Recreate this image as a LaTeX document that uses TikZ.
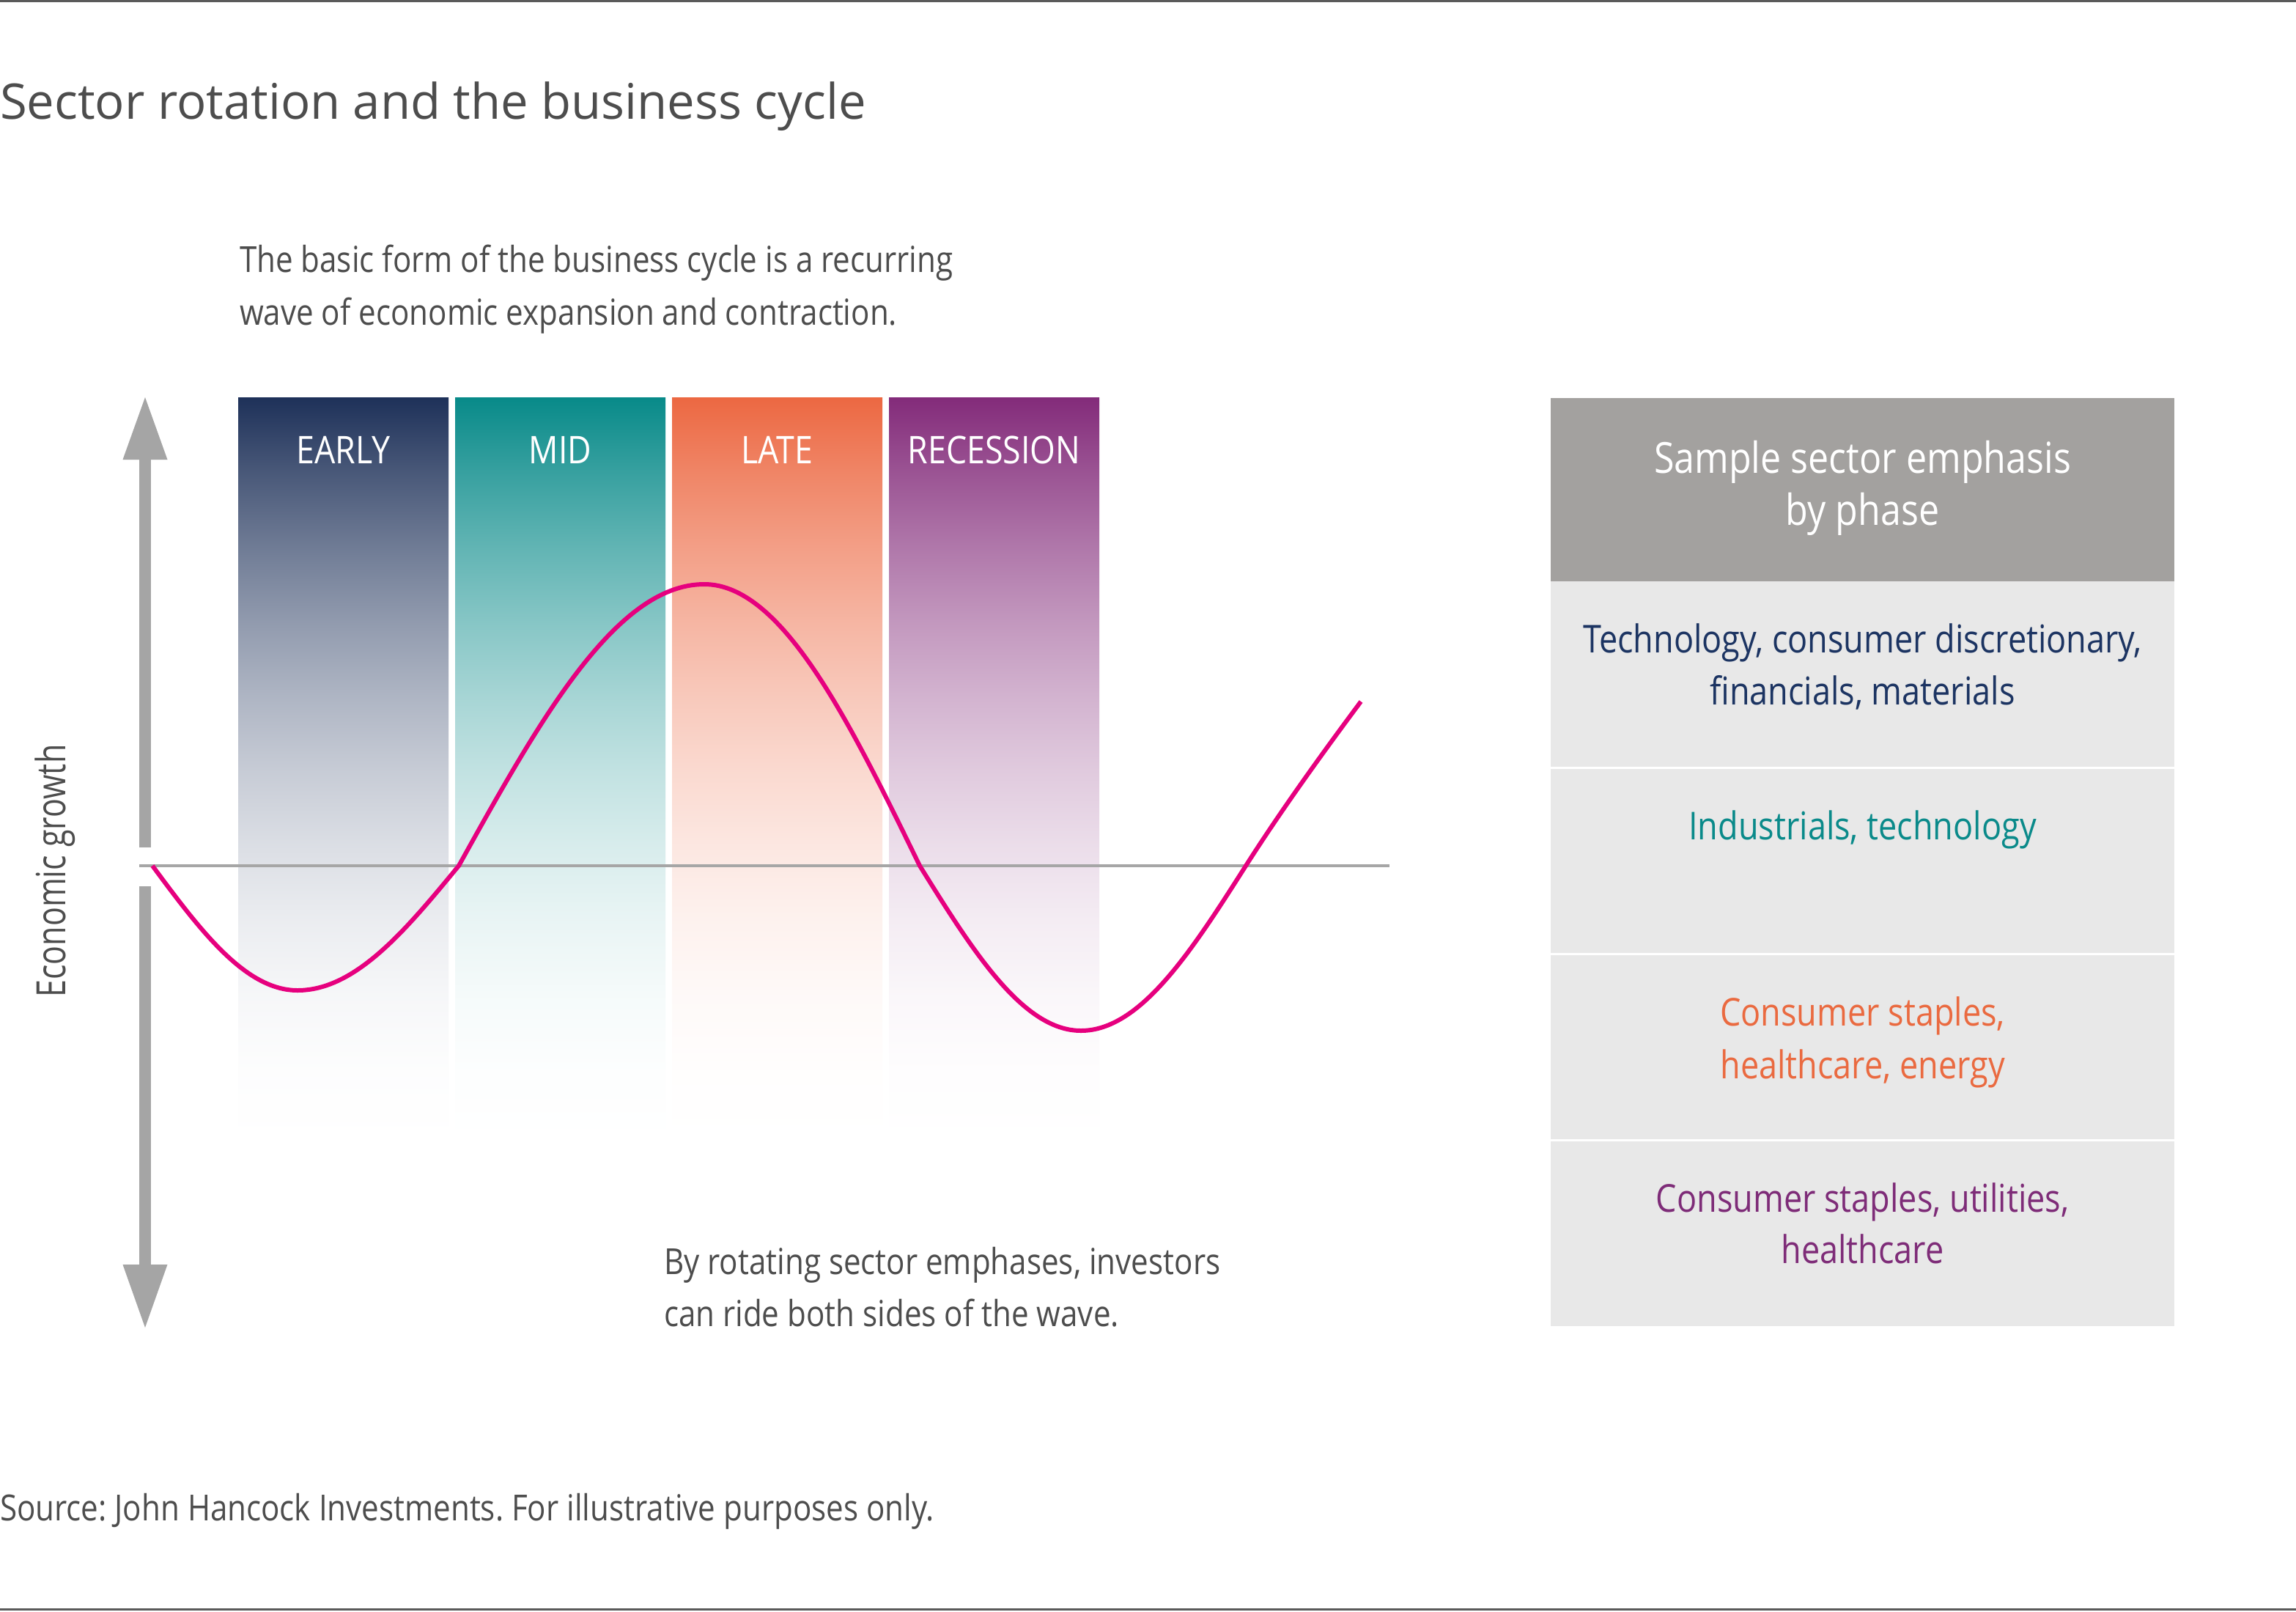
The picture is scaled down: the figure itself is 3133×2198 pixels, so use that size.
\documentclass[tikz,border=0pt]{standalone}
\usepackage{fontspec}
\setmainfont{Open Sans}
\newfontfamily\titlefont{Open Sans}
\newfontfamily\condfont[FakeStretch=0.86]{Open Sans}
\newfontfamily\econfont[FakeStretch=0.78]{Open Sans}
\frenchspacing
\definecolor{txtgray}{HTML}{4D4D4D}
\definecolor{rulegray}{HTML}{5A5A5A}
\definecolor{axisgray}{HTML}{A6A6A6}
\definecolor{arrowgray}{HTML}{A5A5A5}
\definecolor{wave}{HTML}{E6007E}
\definecolor{cearly}{HTML}{1E3159}
\definecolor{cmid}{HTML}{088A89}
\definecolor{clate}{HTML}{EC6842}
\definecolor{crec}{HTML}{832B7A}
\definecolor{headfill}{HTML}{A3A19F}
\definecolor{rowfill}{HTML}{E8E8E8}
\definecolor{tnavy}{HTML}{1C3462}
\definecolor{tteal}{HTML}{0A8A8A}
\definecolor{torange}{HTML}{EA6A40}
\definecolor{tpurple}{HTML}{7E2C78}
\newcommand\declbarshade[2]{%
\pgfdeclareverticalshading{#1}{100bp}{color(0bp)=(white); color(25bp)=(white);
 color(30bp)=(#2!1!white); color(35bp)=(#2!4!white); color(40bp)=(#2!9!white);
 color(45bp)=(#2!16!white); color(50bp)=(#2!25!white); color(55bp)=(#2!36!white);
 color(60bp)=(#2!49!white); color(65bp)=(#2!64!white); color(70bp)=(#2!81!white);
 color(75bp)=(#2); color(100bp)=(#2)}}
\declbarshade{earlyshade}{cearly}
\declbarshade{midshade}{cmid}
\declbarshade{lateshade}{clate}
\declbarshade{recshade}{crec}
\tikzset{
  titlest/.style={font=\titlefont\fontsize{19.06pt}{24pt}\selectfont, text=txtgray},
  annot/.style={font=\condfont\fontsize{13.94pt}{20.2pt}\selectfont, text=txtgray},
  barlabel/.style={font=\condfont\fontsize{14.8pt}{20pt}\selectfont, text=white, anchor=base},
  axislabel/.style={font=\econfont\fontsize{15.65pt}{20pt}\selectfont, text=txtgray},
  headtext/.style={font=\condfont\fontsize{16.6pt}{20pt}\selectfont, text=white, anchor=base},
  rowtext/.style={font=\condfont\fontsize{14.9pt}{20pt}\selectfont, anchor=base},
  rulest/.style={draw=rulegray, line width=0.3mm},
}
\begin{document}
\begin{tikzpicture}[x=0.1mm,y=-0.1mm, every node/.style={inner sep=0pt, outer sep=0pt}]
\useasboundingbox (0,0) rectangle (3133,2198);
\fill[white] (0,0) rectangle (3133,2198);
% rules
\draw[rulest] (0,2) -- (3133,2);
\draw[rulest] (0,2195) -- (3133,2195);
% title
\node[titlest, anchor=base west] (title) at (0,163) {Sector rotation and the business cycle};
% annotation 1
\node[annot, anchor=base west] (ann1a) at (327,372) {The basic form of the business cycle is a recurring};
\node[annot, anchor=base west] (ann1b) at (327,443) {wave of economic expansion and contraction.};
% bars
\shade[shading=earlyshade] (325,542) rectangle (612,1560);
\shade[shading=midshade] (621,542) rectangle (908,1560);
\shade[shading=lateshade] (917,542) rectangle (1204,1560);
\shade[shading=recshade] (1213,542) rectangle (1500,1560);
\node[barlabel] (lEarly) at (468.5,632) {EARLY};
\node[barlabel] (lMid) at (764.5,632) {MID};
\node[barlabel] (lLate) at (1060.5,632) {LATE};
\node[barlabel] (lRec) at (1356.5,632) {RECESSION};
% vertical arrows
\fill[arrowgray] (190,620) rectangle (206,1156);
\fill[arrowgray] (198,542) -- (228.5,627) -- (167.5,627) -- cycle;
\fill[arrowgray] (190,1209) rectangle (206,1731);
\fill[arrowgray] (198,1811) -- (228.5,1725) -- (167.5,1725) -- cycle;
% axis
\coordinate (axL) at (190,1181);
\coordinate (axR) at (1896,1181);
\draw[axisgray, line width=0.4mm] (axL) -- (axR);
% wave
\draw[wave, line width=0.6mm]
  (208,1181) .. controls (272.5,1268) and (334.3,1351) .. (406,1351)
  .. controls (485.6,1351) and (554.3,1268) .. (626,1181)
  .. controls (735.2,984.4) and (839.7,797) .. (961,797)
  .. controls (1067.4,797) and (1159.2,984.4) .. (1255,1181)
  .. controls (1326.7,1296.2) and (1395.4,1406) .. (1475,1406)
  .. controls (1556.5,1406) and (1626.6,1296.2) .. (1700,1181)
  .. controls (1750,1102.5) and (1810,1020) .. (1857,957);
% axis label
\node[axislabel, rotate=90, anchor=base] (econ) at (89,1188) {Economic growth};
% annotation 2
\node[annot, anchor=base west] (ann2a) at (906,1738) {By rotating sector emphases, investors};
\node[annot, anchor=base west] (ann2b) at (906,1809) {can ride both sides of the wave.};
% source
\node[annot, anchor=base west] (src) at (0,2074) {Source: John Hancock Investments. For illustrative purposes only.};
% table
\fill[headfill] (2116,543) rectangle (2967,793);
\fill[rowfill] (2116,793) rectangle (2967,1809);
\draw[white, line width=0.3mm] (2116,1047) -- (2967,1047);
\draw[white, line width=0.3mm] (2116,1301) -- (2967,1301);
\draw[white, line width=0.3mm] (2116,1555) -- (2967,1555);
\node[headtext] (h1) at (2541.5,645) {Sample sector emphasis};
\node[headtext] (h2) at (2541.5,716) {by phase};
\node[rowtext, text=tnavy] (r1a) at (2541.5,890) {Technology, consumer discretionary,};
\node[rowtext, text=tnavy] (r1b) at (2541.5,961) {financials, materials};
\node[rowtext, text=tteal] (r2a) at (2541.5,1145) {Industrials, technology};
\node[rowtext, text=torange] (r3a) at (2541.5,1399) {Consumer staples,};
\node[rowtext, text=torange] (r3b) at (2541.5,1471) {healthcare, energy};
\node[rowtext, text=tpurple] (r4a) at (2541.5,1653) {Consumer staples, utilities,};
\node[rowtext, text=tpurple] (r4b) at (2541.5,1723) {healthcare};
\end{tikzpicture}
\end{document}
